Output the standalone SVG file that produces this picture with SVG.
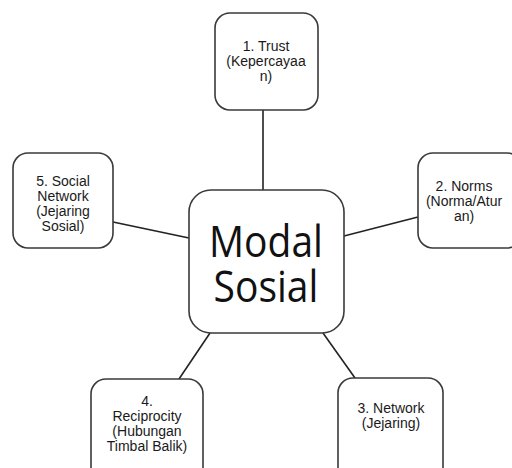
<svg xmlns="http://www.w3.org/2000/svg" width="512" height="468" viewBox="0 0 512 468">
<style>
.box{fill:#fff;stroke:#3a3a3a;stroke-width:1.6}
.t{font-family:"Liberation Sans",Arial,sans-serif;font-size:14px;fill:#1a1a1a;text-anchor:middle}
.big{font-family:"Open Sans","Liberation Sans",sans-serif;font-size:39px;fill:#111;text-anchor:middle}
.c{stroke:#222;stroke-width:1.6;fill:none}
</style>
<rect width="512" height="468" fill="#fff"/>
<g id="connectors">
<line class="c" x1="263" y1="110" x2="263" y2="190"/>
<line class="c" x1="344" y1="236" x2="418" y2="217"/>
<line class="c" x1="113" y1="222" x2="189" y2="238"/>
<line class="c" x1="210" y1="333" x2="179" y2="379"/>
<line class="c" x1="323" y1="333" x2="355" y2="378"/>
</g>
<g id="center">
<rect class="box" x="189" y="190" width="155" height="143" rx="22"/>
<text class="big" transform="translate(266 257) scale(1 1.1)">Modal</text>
<text class="big" transform="translate(266 302) scale(1 1.1)">Sosial</text>
</g>
<g id="trust">
<rect class="box" x="215" y="13" width="103" height="97" rx="15"/>
<text class="t" x="266" y="51">1. Trust</text>
<text class="t" x="266" y="66">(Kepercayaa</text>
<text class="t" x="266" y="81">n)</text>
</g>
<g id="norms">
<rect class="box" x="418" y="153" width="104" height="95" rx="15"/>
<text class="t" x="464" y="191">2. Norms</text>
<text class="t" x="464" y="206">(Norma/Atur</text>
<text class="t" x="464" y="221">an)</text>
</g>
<g id="social-network">
<rect class="box" x="13" y="153" width="100" height="95" rx="15"/>
<text class="t" x="63" y="186">5. Social</text>
<text class="t" x="63" y="201">Network</text>
<text class="t" x="63" y="216">(Jejaring</text>
<text class="t" x="63" y="231">Sosial)</text>
</g>
<g id="reciprocity">
<rect class="box" x="91" y="379" width="112" height="110" rx="15"/>
<text class="t" x="147" y="406">4.</text>
<text class="t" x="147" y="421">Reciprocity</text>
<text class="t" x="147" y="436">(Hubungan</text>
<text class="t" x="147" y="451">Timbal Balik)</text>
</g>
<g id="network">
<rect class="box" x="338" y="378" width="105" height="110" rx="15"/>
<text class="t" x="391" y="413">3. Network</text>
<text class="t" x="391" y="428">(Jejaring)</text>
</g>
</svg>
